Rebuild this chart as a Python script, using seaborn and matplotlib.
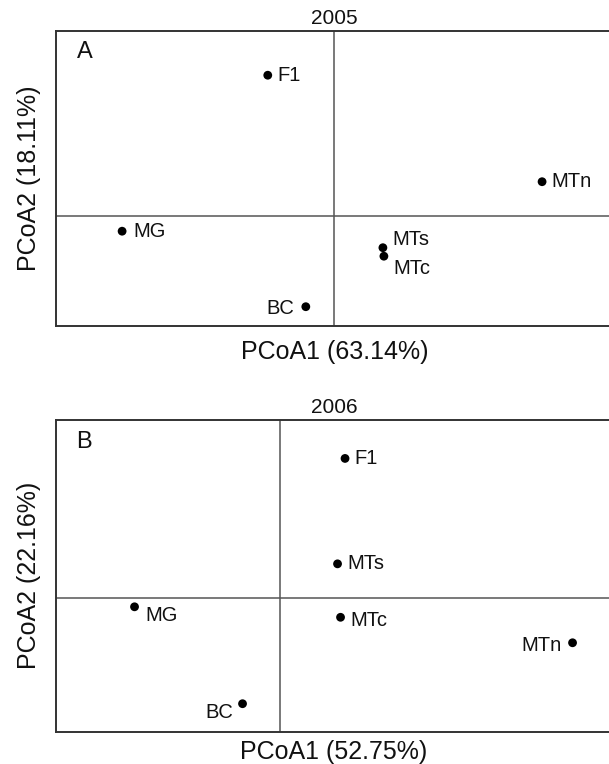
import matplotlib
matplotlib.use("Agg")
import matplotlib.pyplot as plt
import numpy as np
import pandas as pd
import seaborn as sns

# PCoA scores (arbitrary units)
sites = ["F1", "MG", "MTs", "MTc", "BC", "MTn"]
pc1_2005 = [-0.133, -0.424, 0.097, 0.099, -0.057, 0.415]
pc2_2005 = [0.281, -0.031, -0.064, -0.081, -0.182, 0.068]
pc1_2006 = [0.130, -0.291, 0.115, 0.121, -0.075, 0.585]
pc2_2006 = [0.280, -0.017, 0.069, -0.038, -0.211, -0.089]

# label offsets (points) relative to each dot
offs_2005 = {"F1": (7, 0, "left"), "MG": (8, 0, "left"), "MTs": (7, 6, "left"),
             "MTc": (7, -9, "left"), "BC": (-8, -1, "right"), "MTn": (7, 0, "left")}
offs_2006 = {"F1": (7, 0, "left"), "MG": (8, -6, "left"), "MTs": (7, 0, "left"),
             "MTc": (7, -2, "left"), "BC": (-7, -6, "right"), "MTn": (-8, -2, "right")}

sns.set_style("white")
plt.rcParams["font.family"] = ["Liberation Sans", "DejaVu Sans"]

fig = plt.figure(figsize=(6.09, 7.64), dpi=100)
ax1 = fig.add_axes([0.092, 0.5733, 0.914, 0.3861])
ax2 = fig.add_axes([0.092, 0.0423, 0.913, 0.4080])


def panel(ax, x, y, offs, year, letter, xlab, ylab, xlim, ylim, xpad):
    df = pd.DataFrame({"site": sites, "PCoA1": x, "PCoA2": y})
    ax.axhline(0, color="#555555", lw=1.1, zorder=1)
    ax.axvline(0, color="#555555", lw=1.1, zorder=1)
    sns.scatterplot(data=df, x="PCoA1", y="PCoA2", ax=ax, color="black",
                    s=40, edgecolor="none", zorder=3, legend=False)
    for _, r in df.iterrows():
        dx, dy, ha = offs[r["site"]]
        ax.annotate(r["site"], (r["PCoA1"], r["PCoA2"]), xytext=(dx, dy),
                    textcoords="offset points", ha=ha, va="center",
                    fontsize=14.5, color="#111111")
    ax.text(0.037, 0.93, letter, transform=ax.transAxes, fontsize=17,
            ha="left", va="center", color="#111111")
    ax.set_xlim(*xlim)
    ax.set_ylim(*ylim)
    ax.set_xticks([])
    ax.set_yticks([])
    ax.set_title(year, fontsize=15, pad=5, color="#111111")
    ax.set_xlabel(xlab, fontsize=18, labelpad=xpad, color="#111111")
    ax.set_ylabel(ylab, fontsize=18, labelpad=11, color="#111111")
    for sp in ax.spines.values():
        sp.set_color("#333333")
        sp.set_linewidth(1.4)


panel(ax1, pc1_2005, pc2_2005, offs_2005, "2005", "A",
      "PCoA1 (63.14%)", "PCoA2 (18.11%)", (-0.556, 0.556), (-0.2206, 0.3694), 10)
panel(ax2, pc1_2006, pc2_2006, offs_2006, "2006", "B",
      "PCoA1 (52.75%)", "PCoA2 (22.16%)", (-0.448, 0.664), (-0.267, 0.357), 6)

fig.savefig("out.png", dpi=100)
